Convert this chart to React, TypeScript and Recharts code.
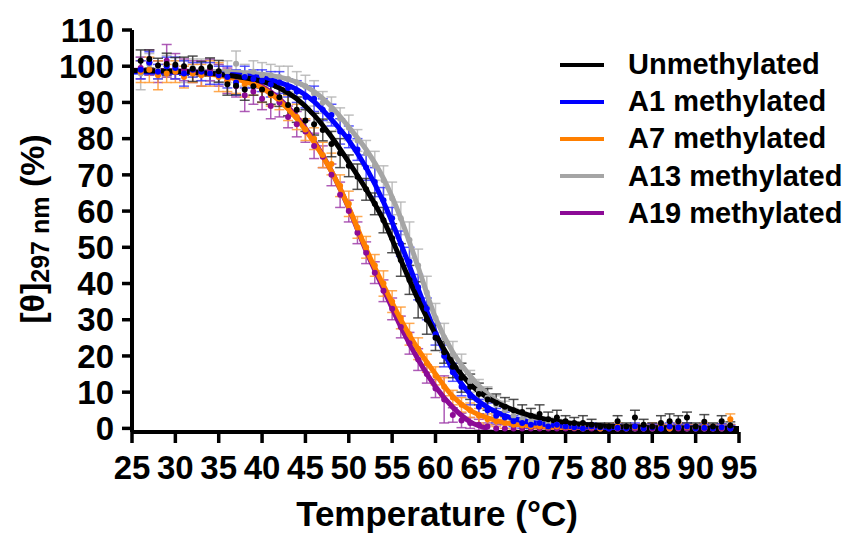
import React from 'react'
import { ComposedChart, Line, Scatter, ErrorBar, XAxis, YAxis, Legend, Label } from 'recharts'

// temperatures of the measured points (°C)
const TEMPS = [
  26, 27, 28, 29, 30, 31, 32, 33, 34, 35,
  36, 37, 38, 39, 40, 41, 42, 43, 44, 45,
  46, 47, 48, 49, 50, 51, 52, 53, 54, 55,
  56, 57, 58, 59, 60, 61, 62, 63, 64, 65,
  66, 67, 68, 69, 70, 71, 72, 73, 74, 75,
  76, 77, 78, 79, 80, 81, 82, 83, 84, 85,
  86, 87, 88, 89, 90, 91, 92, 93, 94,
]

// temperatures at which the fitted curves are sampled
const FIT_TEMPS = [25, 30, 35, 38, 40, 42, 44, 46, 48, 50, 52, 54, 56, 58, 60, 62, 64, 66, 68, 70, 72, 75, 80, 85, 90, 95]

const X_TICKS = [25, 30, 35, 40, 45, 50, 55, 60, 65, 70, 75, 80, 85, 90, 95]
const Y_TICKS = [0, 10, 20, 30, 40, 50, 60, 70, 80, 90, 100, 110]

// fitted curves
const UNMETH_FIT = [98.8, 98.6, 97.8, 96.8, 95.8, 94, 91, 86.5, 80.5, 73.5, 66, 57.5, 46.5, 35.5, 26, 18, 12.2, 8.5, 6, 4.2, 2.9, 1.6, 0.6, 0.2, 0.1, 0]
const A1_FIT = [98.4, 98.3, 97.9, 97.4, 96.8, 95.5, 93.6, 90.2, 85.3, 79.5, 72, 62.5, 51, 38.5, 26.5, 16, 9.5, 5.8, 3.5, 2.1, 1.3, 0.6, 0.2, 0.1, 0, 0]
const A7_FIT = [98.6, 98.4, 97.5, 95.8, 94, 90.5, 85.5, 79, 71, 61, 49.5, 39.5, 30, 21.8, 15, 8.8, 5, 2.9, 1.6, 0.9, 0.5, 0.2, 0, 0, 0, 0]
const A13_FIT = [98.8, 98.7, 98.5, 98.2, 97.8, 97, 95.6, 93, 88.8, 83.2, 77, 69, 58, 44.5, 30.5, 21, 14.5, 9.5, 6.2, 4, 2.6, 1.3, 0.4, 0.1, 0, 0]
const A19_FIT = [98.9, 98.7, 97.8, 96.2, 94.4, 91, 86, 79.3, 71, 60.8, 49, 38.5, 28, 19, 11.5, 5.8, 1.8, 0, null, null, null, null, null, null, null, null]

// measured points
const UNMETH_PTS = [
  101.5, 102, 100.2, 100.6, 100.4, 100, 99.3, 99.3, 99.8, 98.6,
  95, 94.6, 93.6, 94.5, 93.6, 92.5, 91.4, 89.3, 88, 85,
  84, 82.4, 78.5, 76, 72.5, 69.5, 66, 62, 57.5, 52.5,
  46.5, 41, 35.5, 30, 25, 21, 17, 14, 11.5, 9.5,
  8, 7, 6, 5, 4.5, 3.5, 4, 2.5, 3, 2,
  1.5, 1.5, 1, 0.5, 0.5, 2, 0.5, 3, 1, 0.5,
  1.5, 2, 2, 3, 0.5, 1.8, 0.5, 2, 0.8,
]
const UNMETH_ERR = [
  3, 2.5, 2, 3, 2, 2.5, 3.5, 2, 2.5, 3,
  3, 2.5, 3, 2.5, 3.5, 3, 2.5, 3, 3.5, 3,
  3, 3, 3.5, 4, 3, 3.5, 3, 3, 3.5, 4,
  4.5, 4, 5, 4, 3.5, 3, 3, 4, 3.5, 3,
  3, 2.5, 2.5, 3, 2, 2, 2.5, 2, 2, 1.5,
  1.5, 2, 1.5, 1, 1, 1.5, 1, 2, 1.5, 1,
  2, 2, 1.5, 1.5, 1, 2, 1, 1.5, 1,
]
const A1_PTS = [
  99, 101, 98.5, 100, 99.5, 98, 99, 98.5, 98, 97.5,
  97, 95.5, 97, 96.5, 96, 95, 95.5, 94, 93, 91.5,
  91, 88, 86.5, 82, 80.5, 77, 72, 68, 63, 58,
  51, 46, 39, 33, 26, 20, 15.5, 11.5, 9, 6,
  5, 3.5, 3, 2, 1.5, 1, 1.5, 0.5, 1, 0.5,
  0.3, 0, 0.5, 0.3, 0, 0.2, 0, 0.5, 0, 0.3,
  0, 0.5, 0.3, 0.5, 0, 0.2, 0, 0.3, 0,
]
const A1_ERR = [
  2.5, 3, 2, 2.5, 3, 3.5, 2, 2.5, 3, 2.5,
  3, 3.5, 3, 2.5, 3, 3.5, 3, 2.5, 3, 3,
  3.5, 3, 3, 3.5, 3, 3, 3.5, 4, 3.5, 3,
  3.5, 4, 3.5, 3, 3, 3, 2.5, 2.5, 2.5, 2,
  2, 2, 1.5, 1.5, 1.5, 1, 1, 1, 1, 1,
  1, 0.8, 1, 0.8, 0.8, 1, 0.8, 1, 0.8, 1,
  0.8, 1, 0.8, 1, 0.8, 1, 0.8, 1, 0.8,
]
const A7_PTS = [
  98.5, 99, 97.5, 98, 98.5, 97, 98, 97.5, 98, 97,
  96, 95.5, 95, 95, 93.5, 92, 91, 88.5, 86, 82.5,
  80, 75.5, 73, 67, 62, 55.5, 50, 45, 40, 35,
  30.5, 26, 22, 18, 14.5, 11.5, 8.5, 6.5, 5, 3.5,
  2.5, 2, 1.5, 1, 0.8, 0.5, 0.5, 0.3, 0.5, 0.3,
  0.2, 0, 0.3, 0, 0.2, 0.5, 0, 0.3, 0, 0.5,
  0.3, 0, 0.5, 0.3, 0, 0.5, 0, 0.3, 2.5,
]
const A7_ERR = [
  3, 3.5, 4, 2.5, 3, 3, 2.5, 3, 3.5, 4,
  3, 3, 3.5, 3, 3.5, 3, 3, 3.5, 3.5, 3,
  3, 3.5, 3, 3, 3.5, 3, 3, 3, 3.5, 3,
  3, 3, 3, 2.5, 2.5, 2.5, 2, 2, 2, 2,
  1.5, 1.5, 1.5, 1.5, 1.5, 1, 1, 1, 1, 1,
  1, 1, 1, 1, 1, 1, 1, 1, 1, 1,
  1, 1, 1, 1, 1, 1, 1, 1, 1.5,
]
const A13_PTS = [
  98, 100.5, 99, 100, 99, 98.5, 99.5, 99, 98.8, 98,
  98.5, 100.7, 97.5, 98.5, 97.5, 97.5, 97, 96.5, 95.5, 94.5,
  92.5, 90, 88, 85.5, 83, 79.5, 76, 72.5, 68.5, 63.5,
  58, 52, 45, 37.5, 30.5, 25, 20.5, 17, 13, 10.5,
  8.5, 6.5, 5, 3.5, 2.5, 2, 1.5, 1.5, 1, 0.5,
  0.5, 0.3, 0.2, 0, 0.2, 0, 0.3, 0, 0.2, 0,
  0.2, 0, 0.3, 0, 0.2, 0, 0.3, 0, 0.2,
]
const A13_ERR = [
  4.5, 3, 2.5, 3, 2.5, 3, 2.5, 3, 3, 2.5,
  3, 3.5, 3, 3, 3.5, 3, 3, 3.5, 3, 3,
  3.5, 3, 3.5, 3, 3.5, 3, 3.5, 4, 4, 4.5,
  4.5, 5, 4.5, 4.5, 4, 4, 3.5, 3.5, 3, 3,
  3, 2.5, 2.5, 2, 2, 2, 1.5, 1.5, 1.5, 1,
  1, 1, 1, 1, 1, 1, 1, 1, 1, 1,
  1, 1, 1, 1, 1, 1, 1, 1, 1,
]
const A19_PTS = [
  99.5, 101, 98.5, 101.5, 100, 99, 98.5, 98, 99, 97.5,
  96, 94.5, 92, 93, 91, 89, 90, 86, 84, 82,
  78, 75, 70, 64.5, 60, 54, 48.5, 43, 38, 33,
  28, 23.5, 19, 15, 11, 8, 3.7, 2.2, 1.5, 1,
  0.5, 0, 0, 0, 0, 0, 0, 0, 0, 0,
  0, 0, 0, 0, 0, 0, 0, 0, 0, 0,
  0, 0, 0, 0, 0, 0, 0, 0, 0,
]
const A19_ERR = [
  3, 3.5, 3, 4.5, 3.5, 3, 3, 3.5, 3, 3,
  3.5, 3, 4.5, 3.5, 3, 3.5, 4, 3, 3.5, 3,
  3.5, 3, 3, 3.5, 3, 3, 3, 3, 3, 3,
  3, 3, 3, 2.5, 2.5, 6.5, 2, 2, 1.5, 1.5,
  1, 1, 1, 1, 1, 1, 1, 1, 1, 1,
  1, 1, 1, 1, 1, 1, 1, 1, 1, 1,
  1, 1, 1, 1, 1, 1, 1, 1, 1,
]

const FONT = '"Liberation Sans", Arial, Helvetica, sans-serif'

interface Series {
  name: string
  color: string
  barColor: string
  fit: (number | null)[]
  pts: number[]
  err: number[]
}

const SERIES: Series[] = [
  { name: 'Unmethylated', color: '#000000', barColor: '#333333', fit: UNMETH_FIT, pts: UNMETH_PTS, err: UNMETH_ERR },
  { name: 'A1 methylated', color: '#0000ff', barColor: '#3a3aff', fit: A1_FIT, pts: A1_PTS, err: A1_ERR },
  { name: 'A7 methylated', color: '#ff7f00', barColor: '#ff9a33', fit: A7_FIT, pts: A7_PTS, err: A7_ERR },
  { name: 'A13 methylated', color: '#a5a5a5', barColor: '#b5b5b5', fit: A13_FIT, pts: A13_PTS, err: A13_ERR },
  { name: 'A19 methylated', color: '#8c0a96', barColor: '#a040aa', fit: A19_FIT, pts: A19_PTS, err: A19_ERR },
]

// back to front
const DRAW_ORDER = [3, 4, 2, 1, 0]

const fitData = (s: Series) => FIT_TEMPS.map((t, i) => ({ t, v: s.fit[i] }))
const ptData = (s: Series) => TEMPS.map((t, i) => ({ t, v: s.pts[i], e: s.err[i] }))

const tickStyle = { fill: '#000', fontSize: 33, fontWeight: 700, fontFamily: FONT }

const YTitle = () => (
  <text
    x={44}
    y={229}
    transform="rotate(-90, 44, 229)"
    textAnchor="middle"
    fontFamily={FONT}
    fontWeight={700}
    fontSize={34}
    fill="#000"
  >
    [θ]
    <tspan fontSize={25} dy={5}>297 nm</tspan>
    <tspan dy={-5}> (%)</tspan>
  </text>
)

const XTitle = () => (
  <text x={437} y={526} textAnchor="middle" fontFamily={FONT} fontWeight={700} fontSize={35} fill="#000">
    Temperature (°C)
  </text>
)

const renderLegend = () => (
  <div style={{ fontFamily: FONT, fontWeight: 700, fontSize: 29, color: '#000' }}>
    {SERIES.map((s) => (
      <div key={s.name} style={{ display: 'flex', alignItems: 'center', height: 37.2, whiteSpace: 'nowrap' }}>
        <div style={{ width: 44, height: 4, background: s.color, marginRight: 24 }} />
        <span>{s.name}</span>
      </div>
    ))}
  </div>
)

export default function App() {
  return (
    <div style={{ position: 'absolute', left: 0, top: 0 }}>
      <ComposedChart width={845} height={535} margin={{ top: 30, right: 106, left: 52, bottom: 43 }}>
        <XAxis
          dataKey="t"
          type="number"
          domain={[25, 95]}
          ticks={X_TICKS}
          interval={0}
          height={60}
          tick={tickStyle}
          tickSize={11}
          tickMargin={13}
          axisLine={{ stroke: '#000', strokeWidth: 4 }}
          tickLine={{ stroke: '#000', strokeWidth: 3.5 }}
        >
          <Label content={XTitle} />
        </XAxis>
        <YAxis
          type="number"
          domain={[0, 110]}
          ticks={Y_TICKS}
          interval={0}
          width={80}
          tick={tickStyle}
          tickSize={10}
          tickMargin={8}
          axisLine={{ stroke: '#000', strokeWidth: 4 }}
          tickLine={{ stroke: '#000', strokeWidth: 3.5 }}
        >
          <Label content={YTitle} />
        </YAxis>
        <Legend
          layout="vertical"
          align="center"
          verticalAlign="middle"
          content={renderLegend}
          wrapperStyle={{ left: 560, top: 46, width: 285 }}
        />

        {DRAW_ORDER.map((idx) => {
          const s = SERIES[idx]
          return (
            <Scatter
              key={`pts-${s.name}`}
              name={s.name}
              data={ptData(s)}
              dataKey="v"
              isAnimationActive={false}
              legendType="none"
              shape={(p: any) => <circle cx={p.cx} cy={p.cy} r={3} fill={s.color} />}
            >
              <ErrorBar
                dataKey="e"
                direction="y"
                width={5}
                stroke={s.barColor}
                strokeWidth={1.5}
                strokeOpacity={0.85}
                isAnimationActive={false}
              />
            </Scatter>
          )
        })}

        {DRAW_ORDER.map((idx) => {
          const s = SERIES[idx]
          return (
            <Line
              key={`fit-${s.name}`}
              name={s.name}
              data={fitData(s)}
              dataKey="v"
              type="monotone"
              stroke={s.color}
              strokeWidth={5}
              dot={false}
              activeDot={false}
              isAnimationActive={false}
            />
          )
        })}
      </ComposedChart>
    </div>
  )
}
